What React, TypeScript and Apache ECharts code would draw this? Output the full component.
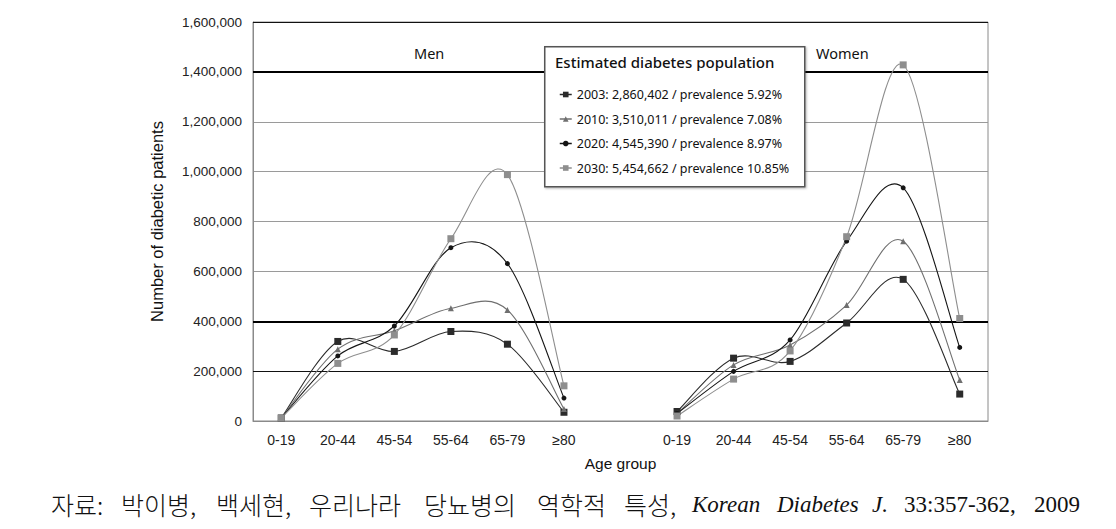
import React, { useEffect, useRef } from "react";
import * as echarts from "echarts";

const ageGroups = ["0-19", "20-44", "45-54", "55-64", "65-79", "≥80"];
const categories = [...ageGroups, "", ...ageGroups];

const seriesNames = [
  "2003: 2,860,402 / prevalence 5.92%",
  "2010: 3,510,011 / prevalence 7.08%",
  "2020: 4,545,390 / prevalence 8.97%",
  "2030: 5,454,662 / prevalence 10.85%",
];

const men2003 = [12000, 319000, 279000, 359000, 308000, 35000];
const men2010 = [12000, 288000, 362000, 452000, 445000, 48000];
const men2020 = [12000, 261000, 381000, 695000, 631000, 92000];
const men2030 = [12000, 231000, 345000, 731000, 988000, 141000];

const women2003 = [38000, 252000, 239000, 393000, 568000, 108000];
const women2010 = [30000, 225000, 305000, 465000, 721000, 164000];
const women2020 = [30000, 199000, 325000, 721000, 935000, 295000];
const women2030 = [20000, 168000, 281000, 739000, 1428000, 411000];

const menData = [men2003, men2010, men2020, men2030];
const womenData = [women2003, women2010, women2020, women2030];

const yTicks = { min: 0, max: 1600000, interval: 200000 };
const boldGridValues = [400000, 1400000];
const blackGridValues = [200000, 1600000];

const captionWords = ["자료:", "박이병,", "백세현,", "우리나라", "당뇨병의", "역학적", "특성,", "Korean", "Diabetes", "J.", "33:357-362,", "2009"];
const captionItalic = [false, false, false, false, false, false, false, true, true, true, false, false];
const captionX = [51, 121, 216, 309, 424, 537, 624, 692, 777, 872, 904, 1034];

const colors = ["#2b2b2b", "#6f6f6f", "#151515", "#8e8e8e"];
const symbols = ["rect", "triangle", "circle", "rect"];
const symbolSizes = [7, 6, 5, 7];
const SMOOTH = 1 / 6;

function catmullPath(pts: number[][]): string {
  if (pts.length === 0) return "";
  let d = `M${pts[0][0]},${pts[0][1]}`;
  for (let i = 0; i < pts.length - 1; i++) {
    const p0 = pts[Math.max(0, i - 1)];
    const p1 = pts[i];
    const p2 = pts[i + 1];
    const p3 = pts[Math.min(pts.length - 1, i + 2)];
    const c1x = p1[0] + (p2[0] - p0[0]) * SMOOTH;
    const c1y = p1[1] + (p2[1] - p0[1]) * SMOOTH;
    const c2x = p2[0] - (p3[0] - p1[0]) * SMOOTH;
    const c2y = p2[1] - (p3[1] - p1[1]) * SMOOTH;
    d += ` C${c1x},${c1y} ${c2x},${c2y} ${p2[0]},${p2[1]}`;
  }
  return d;
}

export default function App() {
  const ref = useRef<HTMLDivElement>(null);
  useEffect(() => {
    if (!ref.current) return;
    const chart = echarts.init(ref.current, null, { renderer: "svg" });
    const series: any[] = [];
    const groups: { k: number; offset: number; values: number[] }[] = [];
    for (let k = 0; k < 4; k++) {
      groups.push({ k, offset: 0, values: menData[k] });
      groups.push({ k, offset: ageGroups.length + 1, values: womenData[k] });
    }
    // smoothed curves
    groups.forEach((g) => {
      const pts = g.values.map((v, i) => [i + g.offset, v]);
      series.push({
        type: "custom",
        name: "curve" + g.k + "_" + g.offset,
        data: pts,
        encode: { x: 0, y: 1 },
        z: 2 + g.k,
        silent: true,
        renderItem: (params: any, api: any) => {
          if (params.dataIndex !== 0) return { type: "group", children: [] };
          const coords = pts.map((p) => api.coord(p));
          return {
            type: "path",
            shape: { pathData: catmullPath(coords) },
            style: { fill: "none", stroke: colors[g.k], lineWidth: 1.1 },
          };
        },
      });
    });
    // markers
    groups.forEach((g, gi) => {
      const s: any = {
        type: "line",
        name: seriesNames[g.k],
        symbol: symbols[g.k],
        symbolSize: symbolSizes[g.k],
        showAllSymbol: true,
        color: colors[g.k],
        lineStyle: { width: 1.1, color: colors[g.k], opacity: 0 },
        itemStyle: { color: colors[g.k] },
        z: 10 + g.k,
        data: g.values.map((v, i) => [i + g.offset, v]),
      };
      if (gi === 0) {
        s.markLine = {
          silent: true,
          symbol: "none",
          label: { show: false },
          z: 1,
          data: [
            ...boldGridValues.map((v) => ({ yAxis: v, lineStyle: { color: "#000", width: 2, type: "solid", opacity: 1 } })),
            ...blackGridValues.map((v) => ({ yAxis: v, lineStyle: { color: "#111", width: 1, type: "solid", opacity: 1 } })),
          ],
        };
      }
      series.push(s);
    });

    const captionGraphics = captionWords.map((w, i) => {
      const latin = captionItalic[i] || /^[0-9]/.test(w);
      return {
        type: "text",
        x: captionX[i],
        y: 504,
        style: {
          text: w,
          fontFamily: latin ? "'Liberation Serif', serif" : "'Noto Sans CJK KR', 'Liberation Serif', serif",
          fontStyle: captionItalic[i] ? "italic" : "normal",
          fontSize: latin ? 23 : 25,
          fontWeight: latin ? "normal" : 300,
          fill: "#111",
          verticalAlign: "middle",
          align: "left",
        },
      };
    });

    chart.setOption({
      animation: false,
      backgroundColor: "#ffffff",
      grid: {
        left: 253,
        right: 128,
        top: 22,
        bottom: 108,
        show: true,
        borderColor: "#8a8a8a",
        borderWidth: 1,
      },
      xAxis: {
        type: "category",
        data: categories,
        boundaryGap: true,
        name: "Age group",
        nameLocation: "middle",
        nameGap: 34,
        nameTextStyle: { fontFamily: "'Liberation Sans', Arial, sans-serif", fontSize: 15.5, color: "#111" },
        axisLine: { lineStyle: { color: "#8a8a8a" } },
        axisTick: { show: false },
        axisLabel: {
          interval: 0,
          margin: 12,
          fontFamily: "'Liberation Sans', Arial, sans-serif",
          fontSize: 14,
          color: "#222",
        },
      },
      yAxis: {
        type: "value",
        min: yTicks.min,
        max: yTicks.max,
        interval: yTicks.interval,
        name: "Number of diabetic patients",
        nameLocation: "middle",
        nameRotate: 90,
        nameGap: 88,
        nameTextStyle: { fontFamily: "'Liberation Sans', Arial, sans-serif", fontSize: 16.5, color: "#111" },
        axisLine: { show: true, lineStyle: { color: "#8a8a8a" } },
        axisTick: { show: false },
        splitLine: { lineStyle: { color: "#9a9a9a", width: 1 } },
        axisLabel: {
          margin: 11,
          fontFamily: "'Liberation Sans', Arial, sans-serif",
          fontSize: 13.5,
          color: "#222",
          formatter: (v: number) => v.toLocaleString("en-US"),
        },
      },
      legend: {
        data: seriesNames,
        orient: "vertical",
        left: 554,
        top: 83,
        itemWidth: 12,
        itemHeight: 7,
        itemGap: 11.5,
        z: 60,
        lineStyle: { opacity: 1, width: 1.5 },
        textStyle: { fontFamily: "'Noto Sans', sans-serif", fontSize: 12.5, color: "#111" },
      },
      graphic: [
        {
          type: "rect",
          left: 544,
          top: 46,
          shape: { width: 260, height: 140 },
          style: { fill: "#fff", stroke: "#555", lineWidth: 1.5, shadowBlur: 2, shadowColor: "rgba(0,0,0,0.3)", shadowOffsetX: 1, shadowOffsetY: 1 },
          z: 50,
        },
        {
          type: "text",
          left: 555,
          top: 54,
          style: { text: "Estimated diabetes population", fontFamily: "'Noto Sans', sans-serif", fontSize: 15, fontWeight: 500, fill: "#111" },
          z: 51,
        },
        {
          type: "text",
          left: 414,
          top: 45,
          style: { text: "Men", fontFamily: "'Noto Sans', sans-serif", fontSize: 14.5, fill: "#111" },
          z: 51,
        },
        {
          type: "text",
          left: 816,
          top: 45,
          style: { text: "Women", fontFamily: "'Noto Sans', sans-serif", fontSize: 14.5, fill: "#111" },
          z: 51,
        },
        ...captionGraphics,
      ],
      series,
    });
    return () => chart.dispose();
  }, []);
  return (
    <div
      ref={ref}
      style={{ position: "fixed", left: 0, top: 0, width: 1116, height: 529, background: "#fff" }}
    />
  );
}
